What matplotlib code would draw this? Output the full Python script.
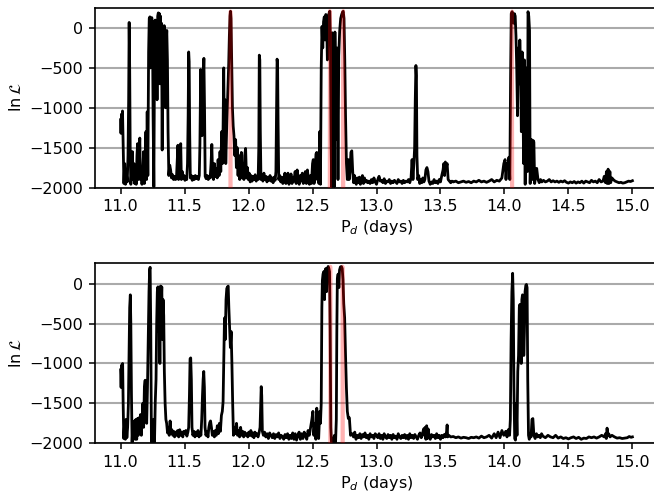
import numpy as np
import matplotlib
matplotlib.use("Agg")
import matplotlib.pyplot as plt

# ---------------- data (period in days, ln L) ----------------
top_curve = [
(11.000,-1150),(11.003,-1320),(11.007,-1080),(11.011,-1260),(11.015,-1040),(11.020,-1450),(11.026,-1950),(11.032,-1700),
(11.038,-1960),(11.045,-1820),(11.052,-1930),(11.058,-1600),(11.063,-900),(11.067,70),(11.071,-500),(11.075,-1500),
(11.080,-1960),(11.086,-1820),(11.092,-1550),(11.098,-1900),(11.104,-1700),(11.110,-1950),(11.116,-1750),(11.122,-1960),
(11.128,-1600),(11.133,-1450),(11.138,-1900),(11.144,-1650),(11.150,-1380),(11.155,-1900),(11.161,-1750),(11.167,-1960),
(11.173,-1800),(11.180,-1550),(11.186,-1950),(11.192,-1700),(11.198,-1300),(11.203,-1900),(11.208,-1050),(11.213,-1850),
(11.219,-300),(11.224,120),(11.229,140),(11.234,-500),(11.239,90),(11.244,130),(11.249,60),(11.254,-1100),(11.260,-1990),
(11.265,-400),(11.270,100),(11.275,-600),(11.280,60),(11.285,-900),(11.290,150),(11.295,190),(11.300,-200),(11.304,180),
(11.308,-700),(11.312,150),(11.316,-300),(11.320,60),(11.325,-1530),(11.329,-400),(11.333,-60),(11.337,-800),(11.341,30),
(11.346,-100),(11.351,-1000),(11.356,-200),(11.361,-30),(11.366,-400),(11.371,-1300),(11.377,-1850),
(11.384,-1720),(11.391,-1780),(11.398,-1880),(11.406,-1840),(11.414,-1900),(11.422,-1860),(11.430,-1900),(11.437,-1870),
(11.443,-1650),(11.448,-1470),(11.453,-1900),(11.459,-1760),(11.465,-1560),(11.470,-1450),(11.475,-1900),(11.482,-1800),
(11.489,-1890),(11.496,-1850),(11.503,-1910),(11.510,-1860),(11.517,-1900),(11.523,-1700),(11.528,-1100),(11.532,-300),
(11.536,-420),(11.540,-1300),(11.545,-1880),(11.553,-1850),(11.560,-1910),(11.568,-1860),(11.576,-1900),(11.584,-1850),
(11.592,-1890),(11.600,-1860),(11.608,-1900),(11.615,-1850),(11.620,-1450),(11.626,-520),(11.631,-1000),(11.637,-1350),
(11.645,-700),(11.651,-380),(11.656,-1000),(11.661,-1860),(11.669,-1890),(11.677,-1850),(11.685,-1900),(11.693,-1860),
(11.700,-1880),(11.707,-1700),(11.713,-1460),(11.719,-1850),(11.726,-1900),(11.733,-1700),(11.740,-1860),(11.747,-1760),
(11.755,-1880),(11.762,-1650),(11.770,-1850),(11.777,-1550),(11.783,-1800),(11.790,-1300),(11.796,-1700),(11.801,-1250),
(11.806,-500),(11.811,-1350),(11.816,-900),(11.822,-1700),(11.830,-1200),(11.838,-800),(11.845,-450),(11.850,-100),
(11.855,150),(11.859,210),(11.863,120),(11.868,-400),(11.874,-1000),(11.880,-1230),(11.886,-1350),(11.893,-1600),
(11.899,-1400),(11.905,-1750),(11.911,-1500),(11.918,-1850),(11.924,-1600),(11.931,-1900),(11.938,-1650),(11.944,-1560),
(11.950,-1880),(11.957,-1700),(11.964,-1900),(11.970,-1600),(11.977,-1510),(11.984,-1880),(11.991,-1750),(11.998,-1900),
(12.005,-1820),(12.013,-1930),(12.020,-1850),(12.028,-1920),(12.036,-1860),(12.044,-1900),(12.052,-1840),(12.060,-1920),
(12.068,-1880),(12.075,-1900),(12.080,-1500),(12.084,-340),(12.088,-400),(12.092,-1300),(12.097,-1900),(12.104,-1850),
(12.112,-1920),(12.120,-1820),(12.128,-1900),(12.136,-1860),(12.144,-1930),(12.152,-1870),(12.160,-1910),(12.168,-1850),
(12.176,-1920),(12.184,-1880),(12.192,-1940),(12.200,-1870),(12.208,-1910),(12.214,-1800),(12.219,-1000),(12.223,-390),
(12.227,-450),(12.231,-1200),(12.236,-1900),(12.244,-1850),(12.252,-1930),(12.260,-1870),(12.268,-1950),(12.276,-1900),
(12.284,-1820),(12.292,-1950),(12.300,-1880),(12.308,-1820),(12.316,-1960),(12.324,-1900),(12.332,-1830),(12.340,-1950),
(12.348,-1870),(12.356,-1920),(12.364,-1800),(12.372,-1950),(12.380,-1780),(12.388,-1900),(12.396,-1960),(12.404,-1850),
(12.412,-1920),(12.420,-1820),(12.428,-1950),(12.436,-1860),(12.444,-1800),(12.452,-1950),(12.460,-1780),(12.468,-1900),
(12.476,-1960),(12.484,-1850),(12.492,-1950),(12.500,-1700),(12.506,-1650),(12.512,-1950),(12.520,-1800),(12.527,-1580),
(12.533,-1560),(12.538,-1900),(12.544,-1750),(12.550,-1950),(12.556,-1300),(12.562,-1960),(12.568,-500),(12.574,20),
(12.580,-250),(12.586,80),(12.592,140),(12.598,-150),(12.604,170),(12.610,120),(12.616,-400),(12.622,60),(12.628,180),
(12.635,210),(12.640,-200),(12.645,-1400),(12.650,-1990),(12.655,-60),(12.660,-500),(12.665,-80),(12.670,-1990),
(12.675,-50),(12.681,-700),(12.687,-1400),(12.693,-250),(12.699,-1900),(12.705,-350),(12.712,-40),(12.720,120),
(12.728,170),(12.735,200),(12.740,210),(12.746,120),(12.752,-400),(12.758,-1100),(12.765,-1700),(12.772,-1900),
(12.779,-1650),(12.786,-1900),(12.793,-1800),(12.800,-1560),(12.807,-1540),(12.814,-1800),(12.821,-1940),(12.828,-1850),
(12.835,-1920),(12.842,-1960),(12.850,-1880),(12.858,-1940),(12.866,-1870),(12.874,-1960),(12.882,-1900),(12.890,-1850),
(12.898,-1950),(12.906,-1880),(12.914,-1930),(12.922,-1910),(12.930,-1940),(12.940,-1920),(12.950,-1950),(12.960,-1900),
(12.970,-1940),(12.980,-1880),(12.990,-1930),(13.000,-1960),(13.010,-1900),(13.020,-1860),(13.030,-1920),(13.040,-1910),
(13.050,-1940),(13.060,-1890),(13.070,-1950),(13.080,-1920),(13.090,-1930),(13.100,-1900),(13.110,-1950),(13.120,-1920),
(13.130,-1940),(13.140,-1910),(13.150,-1930),(13.160,-1950),(13.170,-1900),(13.180,-1930),(13.190,-1920),(13.200,-1950),
(13.210,-1910),(13.220,-1940),(13.230,-1920),(13.240,-1930),(13.250,-1900),(13.260,-1940),(13.270,-1880),(13.278,-1650),
(13.285,-1900),(13.292,-1700),(13.298,-1500),(13.303,-900),(13.308,-470),(13.312,-600),(13.316,-1600),(13.322,-1900),
(13.330,-1850),(13.338,-1950),(13.346,-1900),(13.354,-1940),(13.362,-1880),(13.370,-1930),(13.378,-1900),(13.386,-1780),
(13.394,-1750),(13.402,-1800),(13.410,-1920),(13.420,-1960),(13.430,-1930),(13.440,-1950),(13.450,-1900),(13.460,-1940),
(13.470,-1920),(13.480,-1950),(13.490,-1900),(13.500,-1930),(13.510,-1850),(13.520,-1780),(13.526,-1700),(13.532,-1850),
(13.538,-1680),(13.545,-1750),(13.552,-1700),(13.560,-1900),(13.570,-1920),(13.580,-1940),(13.590,-1920),(13.600,-1930),
(13.620,-1920),(13.640,-1940),(13.660,-1930),(13.680,-1920),(13.700,-1935),(13.720,-1925),(13.740,-1940),(13.760,-1920),
(13.780,-1930),(13.800,-1910),(13.820,-1930),(13.840,-1920),(13.860,-1935),(13.880,-1920),(13.900,-1900),(13.920,-1930),
(13.940,-1910),(13.960,-1920),(13.980,-1880),(13.995,-1700),(14.005,-1650),(14.012,-1900),(14.020,-1700),(14.028,-1760),
(14.035,-1620),(14.042,-1900),(14.048,-600),(14.053,180),(14.060,205),(14.066,170),(14.072,60),(14.078,180),(14.084,150),
(14.090,-100),(14.096,-500),(14.102,-1100),(14.108,-250),(14.114,-700),(14.120,-150),(14.126,-500),(14.132,-1300),
(14.138,-300),(14.144,-900),(14.150,-1700),(14.156,-400),(14.162,-1960),(14.168,-500),(14.174,-1000),(14.180,-1800),
(14.184,205),(14.190,150),(14.196,-30),(14.201,-1950),(14.207,-1500),(14.212,-1400),(14.218,-1900),(14.224,-1410),
(14.230,-1430),(14.236,-1950),(14.244,-1850),(14.252,-1760),(14.262,-1900),(14.272,-1940),(14.282,-1900),(14.292,-1930),
(14.305,-1910),(14.320,-1930),(14.335,-1920),(14.350,-1900),(14.365,-1930),(14.380,-1915),(14.395,-1930),(14.410,-1920),
(14.425,-1935),(14.440,-1920),(14.455,-1930),(14.470,-1915),(14.485,-1935),(14.500,-1945),(14.515,-1930),(14.530,-1940),
(14.545,-1925),(14.560,-1945),(14.575,-1930),(14.590,-1940),(14.605,-1920),(14.620,-1945),(14.635,-1920),(14.650,-1930),
(14.665,-1940),(14.680,-1910),(14.695,-1930),(14.710,-1920),(14.725,-1940),(14.740,-1900),(14.755,-1930),(14.770,-1920),
(14.780,-1860),(14.790,-1940),(14.797,-1800),(14.803,-1950),(14.810,-1770),(14.817,-1950),(14.824,-1800),(14.830,-1940),
(14.840,-1880),(14.850,-1900),(14.865,-1920),(14.880,-1930),(14.895,-1940),(14.910,-1935),(14.925,-1945),(14.940,-1940),
(14.955,-1930),(14.970,-1920),(14.985,-1925),(15.000,-1915),
]

bottom_curve = [
(11.000,-1080),(11.004,-1300),(11.008,-1020),(11.012,-1100),(11.016,-1000),(11.020,-1500),(11.025,-1940),(11.031,-1750),
(11.037,-1950),(11.043,-1700),(11.049,-1930),(11.055,-1800),(11.061,-1500),(11.066,-900),(11.071,-300),(11.076,-140),
(11.080,-500),(11.085,-1400),(11.090,-1990),(11.096,-1760),(11.102,-1900),(11.108,-1720),(11.114,-1950),(11.120,-1700),
(11.126,-1950),(11.132,-1690),(11.138,-1900),(11.144,-1680),(11.150,-1800),(11.156,-1640),(11.162,-1900),(11.168,-1700),
(11.174,-1500),(11.180,-1800),(11.186,-1300),(11.192,-1210),(11.198,-1600),(11.204,-1750),(11.210,-1300),(11.216,-700),
(11.222,-100),(11.227,180),(11.231,205),(11.236,-600),(11.241,-1990),(11.247,-1800),(11.253,-1990),(11.259,-1700),
(11.265,-1990),(11.271,-1480),(11.277,-1200),(11.282,-500),(11.287,-100),(11.292,-40),(11.297,-600),(11.302,-60),
(11.307,-1000),(11.312,-30),(11.317,-300),(11.322,-40),(11.327,-700),(11.332,-200),(11.337,-400),(11.342,-1100),
(11.348,-1500),(11.354,-1700),(11.360,-1750),(11.367,-1870),(11.374,-1800),(11.380,-1900),(11.387,-1720),(11.394,-1880),
(11.401,-1830),(11.408,-1900),(11.415,-1850),(11.422,-1920),(11.430,-1860),(11.438,-1900),(11.446,-1840),(11.454,-1920),
(11.462,-1830),(11.470,-1900),(11.478,-1860),(11.486,-1920),(11.494,-1850),(11.502,-1880),(11.510,-1840),(11.518,-1910),
(11.526,-1860),(11.532,-1800),(11.538,-1400),(11.543,-940),(11.548,-930),(11.553,-1200),(11.558,-1800),(11.565,-1900),
(11.573,-1850),(11.581,-1920),(11.589,-1860),(11.597,-1900),(11.605,-1840),(11.613,-1920),(11.621,-1870),(11.628,-1900),
(11.634,-1700),(11.640,-1400),(11.645,-1200),(11.650,-1100),(11.655,-1300),(11.660,-1800),(11.667,-1900),(11.675,-1850),
(11.683,-1920),(11.690,-1800),(11.697,-1740),(11.703,-1720),(11.710,-1800),(11.717,-1900),(11.725,-1850),(11.733,-1920),
(11.740,-1840),(11.748,-1900),(11.756,-1780),(11.764,-1880),(11.772,-1750),(11.780,-1850),(11.788,-1650),(11.795,-1600),
(11.801,-1480),(11.806,-1000),(11.812,-430),(11.818,-700),(11.824,-200),(11.830,-60),(11.836,-40),(11.841,-30),
(11.846,-300),(11.852,-560),(11.858,-800),(11.864,-600),(11.870,-1000),(11.876,-1500),(11.882,-1900),(11.890,-1800),
(11.898,-1880),(11.906,-1750),(11.914,-1900),(11.922,-1840),(11.930,-1920),(11.938,-1800),(11.946,-1900),(11.954,-1850),
(11.962,-1920),(11.970,-1860),(11.978,-1900),(11.986,-1880),(11.994,-1920),(12.002,-1860),(12.010,-1900),(12.018,-1840),
(12.026,-1910),(12.034,-1870),(12.042,-1930),(12.050,-1860),(12.058,-1900),(12.066,-1880),(12.074,-1920),(12.082,-1870),
(12.090,-1800),(12.095,-1500),(12.099,-1290),(12.103,-1400),(12.108,-1850),(12.116,-1900),(12.125,-1860),(12.135,-1920),
(12.145,-1880),(12.155,-1940),(12.165,-1870),(12.175,-1900),(12.185,-1930),(12.195,-1880),(12.205,-1940),(12.215,-1890),
(12.225,-1920),(12.235,-1870),(12.245,-1940),(12.255,-1900),(12.265,-1920),(12.275,-1950),(12.285,-1890),(12.295,-1930),
(12.305,-1880),(12.315,-1950),(12.325,-1900),(12.335,-1940),(12.345,-1870),(12.355,-1950),(12.365,-1880),(12.375,-1960),
(12.385,-1900),(12.395,-1860),(12.405,-1950),(12.415,-1880),(12.425,-1940),(12.435,-1860),(12.445,-1900),(12.455,-1950),
(12.465,-1840),(12.475,-1900),(12.485,-1800),(12.495,-1700),(12.503,-1600),(12.510,-1900),(12.518,-1750),(12.526,-1950),
(12.533,-1560),(12.540,-1900),(12.548,-1940),(12.556,-1600),(12.562,-1750),(12.568,-1500),(12.573,-300),(12.577,40),
(12.582,120),(12.588,150),(12.594,-200),(12.598,160),(12.604,190),(12.610,-100),(12.615,180),(12.622,215),(12.628,190),
(12.633,150),(12.638,-600),(12.643,-1800),(12.648,-1990),(12.656,-1990),(12.664,-1950),(12.672,-1900),(12.680,-1990),
(12.686,-1700),(12.690,-600),(12.694,60),(12.700,120),(12.706,-50),(12.711,170),(12.718,210),(12.726,215),(12.732,190),
(12.738,50),(12.744,-250),(12.751,-430),(12.758,-900),(12.765,-1310),(12.772,-1600),(12.780,-1690),(12.788,-1680),
(12.797,-1900),(12.810,-1880),
(12.820,-1920),(12.830,-1860),(12.840,-1950),(12.850,-1900),(12.860,-1930),(12.870,-1880),(12.880,-1940),(12.890,-1890),
(12.900,-1920),(12.910,-1870),(12.920,-1930),(12.930,-1900),(12.940,-1950),(12.950,-1880),(12.960,-1920),(12.970,-1900),
(12.980,-1940),(12.990,-1880),(13.000,-1900),(13.010,-1930),(13.020,-1880),(13.030,-1940),(13.040,-1900),(13.050,-1950),
(13.060,-1880),(13.070,-1920),(13.080,-1940),(13.090,-1890),(13.100,-1930),(13.110,-1900),(13.120,-1950),(13.130,-1890),
(13.140,-1930),(13.150,-1910),(13.160,-1950),(13.170,-1880),(13.180,-1920),(13.190,-1940),(13.200,-1900),(13.210,-1930),
(13.220,-1890),(13.230,-1940),(13.240,-1900),(13.250,-1950),(13.260,-1880),(13.270,-1930),(13.280,-1900),(13.290,-1940),
(13.300,-1890),(13.310,-1920),(13.320,-1950),(13.330,-1900),(13.340,-1870),(13.350,-1930),(13.360,-1880),(13.368,-1820),
(13.374,-1900),(13.380,-1800),(13.386,-1950),(13.392,-1780),(13.398,-1940),(13.404,-1820),(13.410,-1900),(13.420,-1950),
(13.430,-1890),(13.440,-1920),(13.450,-1900),(13.460,-1940),(13.470,-1880),(13.480,-1930),(13.490,-1900),(13.500,-1950),
(13.510,-1900),(13.520,-1930),(13.530,-1890),(13.540,-1920),(13.548,-1850),(13.552,-1770),(13.556,-1920),(13.565,-1900),
(13.580,-1920),(13.600,-1915),(13.620,-1930),(13.640,-1920),(13.660,-1935),(13.680,-1925),(13.700,-1930),(13.720,-1940),
(13.740,-1925),(13.760,-1930),(13.780,-1920),(13.800,-1935),(13.820,-1910),(13.840,-1930),(13.860,-1920),(13.880,-1900),
(13.900,-1935),(13.920,-1880),(13.935,-1930),(13.950,-1860),(13.965,-1930),(13.980,-1840),(13.995,-1900),(14.010,-1850),
(14.020,-1920),(14.030,-1830),(14.040,-1900),(14.046,-1700),(14.052,-700),(14.058,-100),(14.064,130),(14.069,-200),
(14.074,-1300),(14.080,-1940),(14.086,-1960),(14.092,-1500),(14.098,-1900),(14.104,-1100),(14.110,-900),(14.116,-300),
(14.121,-260),(14.126,-600),(14.131,-1000),(14.136,-200),(14.141,-140),(14.146,-180),(14.151,-900),(14.156,-600),
(14.161,-100),(14.167,-20),(14.172,-10),(14.177,-50),(14.182,-1200),(14.188,-1900),(14.194,-1950),(14.200,-1880),
(14.208,-1920),(14.215,-1700),(14.222,-1690),(14.230,-1900),(14.240,-1940),(14.250,-1880),(14.260,-1920),(14.270,-1900),
(14.280,-1930),(14.290,-1880),(14.300,-1910),(14.320,-1930),(14.340,-1900),(14.360,-1920),(14.380,-1930),(14.400,-1900),
(14.420,-1935),(14.440,-1920),(14.460,-1940),(14.480,-1930),(14.500,-1945),(14.520,-1930),(14.540,-1920),(14.560,-1940),
(14.580,-1925),(14.600,-1950),(14.620,-1935),(14.640,-1940),(14.660,-1920),(14.680,-1930),(14.700,-1920),(14.720,-1935),
(14.740,-1920),(14.760,-1900),(14.780,-1920),(14.790,-1880),(14.796,-1940),(14.802,-1810),(14.808,-1900),(14.815,-1880),
(14.825,-1920),(14.840,-1900),(14.860,-1920),(14.880,-1935),(14.900,-1930),(14.920,-1940),(14.940,-1935),(14.960,-1930),
(14.975,-1915),(14.990,-1925),(15.000,-1920),
]

# highlighted (best) peaks
top_peak_p = [11.857, 11.859, 11.861, np.nan, 12.633, 12.635, 12.637, np.nan,
              12.738, 12.740, 12.742, np.nan, 14.058, 14.060, 14.062]
top_peak_l = [-2000, 210, -2000, np.nan, -2000, 215, -2000, np.nan,
              -2000, 215, -2000, np.nan, -2000, 210, -2000]
bottom_peak_p = [12.638, 12.640, 12.642, np.nan, 12.733, 12.735, 12.737]
bottom_peak_l = [-2000, 215, -2000, np.nan, -2000, 215, -2000]

yticks = [0, -500, -1000, -1500, -2000]
xticks = [11.0, 11.5, 12.0, 12.5, 13.0, 13.5, 14.0, 14.5, 15.0]

# ---------------- figure ----------------
plt.rcParams['font.size'] = 11.5
W, H = 654, 495
fig = plt.figure(figsize=(W / 100, H / 100), dpi=100)

def make_axes(top_px, bot_px):
    left_px, right_px = 95, 658
    return fig.add_axes([left_px / W, 1 - bot_px / H,
                         (right_px - left_px) / W, (bot_px - top_px) / H])

ax1 = make_axes(7.7, 187.5)
ax2 = make_axes(263.3, 443.3)

panels = [
    (ax1, top_curve, top_peak_p, top_peak_l),
    (ax2, bottom_curve, bottom_peak_p, bottom_peak_l),
]

for ax, curve, pp, pl in panels:
    p, l = zip(*curve)
    ax.plot(p, l, color='black', lw=2.0, zorder=3)
    ax.plot(pp, pl, color='red', alpha=0.3, lw=2.6, zorder=4)
    ax.set_xlim(10.8, 15.2)
    ax.set_ylim(-2000, 255)
    ax.set_yticks(yticks)
    ax.set_xticks(xticks)
    ax.set_xticklabels([f"{t:.1f}" for t in xticks])
    ax.yaxis.grid(True, color='#aaaaaa', lw=1.5, zorder=0)
    ax.set_axisbelow(True)
    ax.tick_params(labelsize=11.5, length=4.5, width=1.1, pad=4)
    for s in ax.spines.values():
        s.set_linewidth(1.2)
    ax.set_ylabel(r'$\ln\mathcal{L}$', fontsize=11.5, labelpad=4)
    ax.set_xlabel(r'P$_d$ (days)', fontsize=11.5, labelpad=3)

fig.savefig('out.png', dpi=100)
